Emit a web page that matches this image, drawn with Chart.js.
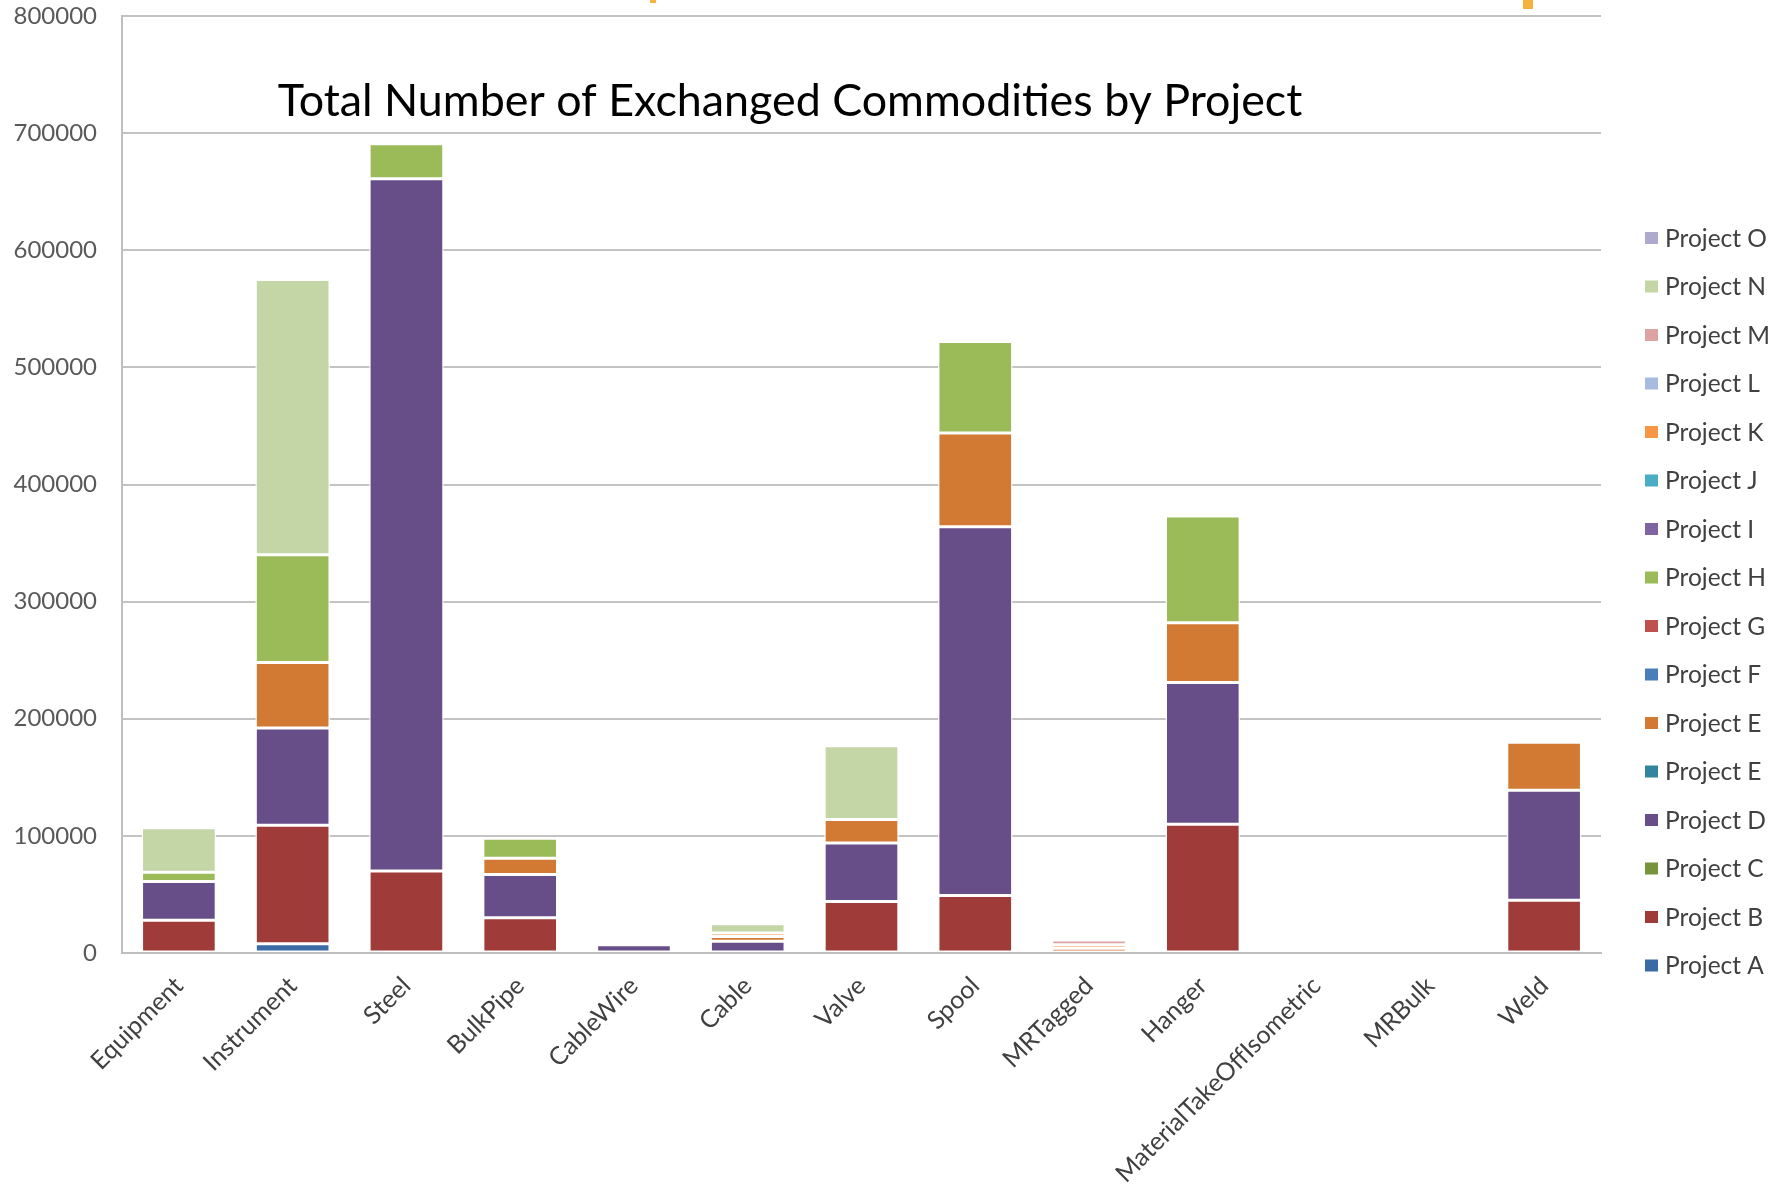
<!DOCTYPE html>
<html>
<head>
<meta charset="utf-8">
<script src="https://cdn.jsdelivr.net/npm/chart.js@4/dist/chart.umd.min.js"></script>
<style>
  html, body { margin: 0; padding: 0; background: #ffffff; }
  #wrap { width: 1786px; height: 1184px; position: relative; }
</style>
</head>
<body>
<div id="wrap"><canvas id="c" width="1786" height="1184"></canvas></div>
<script>
const chartTitle = "Total Number of Exchanged Commodities by Project";
const categories = ["Equipment", "Instrument", "Steel", "BulkPipe", "CableWire", "Cable", "Valve", "Spool", "MRTagged", "Hanger", "MaterialTakeOffIsometric", "MRBulk", "Weld"];
const yTicks = [0, 100000, 200000, 300000, 400000, 500000, 600000, 700000, 800000];

const projectA  = [0, 8000, 0, 0, 0, 0, 0, 0, 0, 0, 0, 0, 0];
const projectB  = [28000, 101000, 70000, 30000, 0, 0, 44000, 49000, 0, 110000, 0, 0, 45000];
const projectC  = [0, 0, 0, 0, 0, 0, 0, 0, 0, 0, 0, 0, 0];
const projectD  = [33000, 83000, 591000, 37000, 7000, 10000, 50000, 315000, 0, 121000, 0, 0, 94000];
const projectE1 = [0, 0, 0, 0, 0, 0, 0, 0, 0, 0, 0, 0, 0];
const projectE2 = [0, 56000, 0, 14000, 0, 4000, 20000, 80000, 4000, 51000, 0, 0, 41000];
const projectF  = [0, 0, 0, 0, 0, 0, 0, 0, 0, 0, 0, 0, 0];
const projectG  = [0, 0, 0, 0, 0, 0, 0, 0, 0, 0, 0, 0, 0];
const projectH  = [8000, 92000, 30000, 17000, 0, 0, 0, 78000, 0, 91000, 0, 0, 0];
const projectI  = [0, 0, 0, 0, 0, 0, 0, 0, 0, 0, 0, 0, 0];
const projectJ  = [0, 0, 0, 0, 0, 0, 0, 0, 0, 0, 0, 0, 0];
const projectK  = [0, 0, 0, 0, 0, 3000, 0, 0, 3000, 0, 0, 0, 0];
const projectL  = [0, 0, 0, 0, 0, 0, 0, 0, 0, 0, 0, 0, 0];
const projectM  = [0, 0, 0, 0, 0, 0, 0, 0, 4000, 0, 0, 0, 0];
const projectN  = [38000, 235000, 0, 0, 0, 8000, 63000, 0, 0, 0, 0, 0, 0];
const projectO  = [0, 0, 0, 0, 0, 0, 0, 0, 0, 0, 0, 0, 0];

const seriesNames = ["Project A", "Project B", "Project C", "Project D", "Project E", "Project E", "Project F", "Project G", "Project H", "Project I", "Project J", "Project K", "Project L", "Project M", "Project N", "Project O"];
const seriesValues = [projectA, projectB, projectC, projectD, projectE1, projectE2, projectF, projectG, projectH, projectI, projectJ, projectK, projectL, projectM, projectN, projectO];
const seriesColors = ["#3B6BA6", "#9F3B39", "#77933C", "#674E88", "#31869E", "#D27A34", "#4A7EBB", "#C0504D", "#9BBB59", "#8064A2", "#4BACC6", "#F79646", "#A7BBE0", "#DDA3A3", "#C4D6A6", "#ADAACD"];

const FONT = "Lato, 'Open Sans', sans-serif";

const datasets = seriesNames.map((n, i) => ({
  label: n,
  data: seriesValues[i],
  backgroundColor: seriesColors[i],
  borderColor: "rgba(255,255,255,0.95)",
  borderWidth: 1.5,
  borderSkipped: false,
  categoryPercentage: 0.8,
  barPercentage: 0.82
}));

const decoPlugin = {
  id: "deco",
  afterDraw(chart) {
    const ctx = chart.ctx;
    ctx.save();
    // title
    let size = 42;
    ctx.font = size + "px " + FONT;
    const w = ctx.measureText(chartTitle).width;
    size = size * 1025 / w;
    ctx.font = size + "px " + FONT;
    ctx.fillStyle = "#000000";
    ctx.textAlign = "center";
    ctx.textBaseline = "middle";
    ctx.fillText(chartTitle, 790, 102);
    // legend (reverse order)
    const n = chart.data.datasets.length;
    const y0 = 238, step = 48.5;
    ctx.font = "24.5px " + FONT;
    ctx.textAlign = "left";
    for (let k = 0; k < n; k++) {
      const ds = chart.data.datasets[n - 1 - k];
      const y = y0 + k * step;
      ctx.fillStyle = ds.backgroundColor;
      ctx.fillRect(1645, y - 6, 13, 12);
      ctx.fillStyle = "#404040";
      ctx.fillText(ds.label, 1665, y + 1);
    }
    // small orange slide marks at the top
    ctx.fillStyle = "#F6B23C";
    ctx.fillRect(1523, 0, 10, 9);
    ctx.fillRect(650, 0, 6, 3);
    ctx.restore();
  }
};

new Chart(document.getElementById("c"), {
  type: "bar",
  data: { labels: categories, datasets },
  options: {
    responsive: false,
    animation: false,
    devicePixelRatio: 1,
    layout: { padding: { left: 0, right: 185, top: 16, bottom: 0 } },
    plugins: {
      legend: { display: false },
      title: { display: false },
      tooltip: { enabled: false }
    },
    scales: {
      x: {
        stacked: true,
        grid: { display: false, drawTicks: false },
        border: { display: true, color: "#BFBFBF", width: 2 },
        ticks: {
          autoSkip: false,
          minRotation: 45,
          maxRotation: 45,
          padding: 18,
          color: "#404040",
          font: { family: FONT, size: 25 }
        },
        afterFit(scale) { scale.height = 231; scale.paddingLeft = 0; scale.paddingRight = 0; }
      },
      y: {
        stacked: true,
        min: 0,
        max: 800000,
        afterBuildTicks(scale) { scale.ticks = yTicks.map(v => ({ value: v })); },
        grid: { color: "#C3C3C3", lineWidth: 2, drawTicks: false },
        border: { display: true, color: "#BFBFBF", width: 2 },
        ticks: {
          padding: 25,
          color: "#595959",
          font: { family: FONT, size: 24 },
          callback: v => String(v)
        },
        afterFit(scale) { scale.width = 122; scale.paddingTop = 0; scale.paddingBottom = 0; }
      }
    }
  },
  plugins: [decoPlugin]
});
</script>
</body>
</html>
